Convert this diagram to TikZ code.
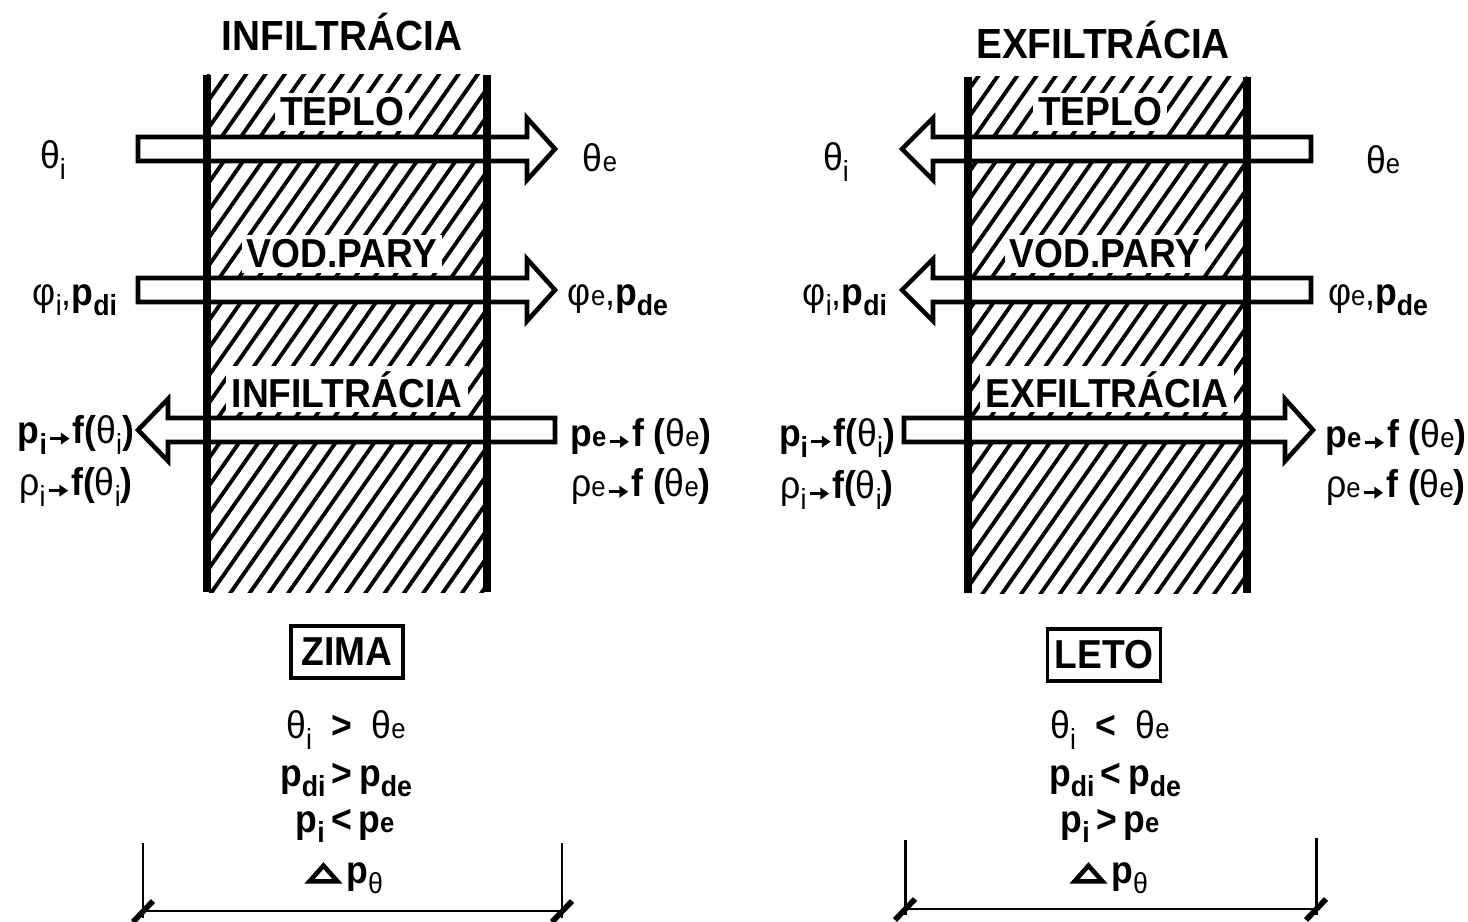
\documentclass[tikz,border=0pt]{standalone}
\usepackage{graphicx}
\usepackage{fontspec}
\setmainfont{Liberation Sans}[FakeStretch=0.92]
\usepackage{tikz}
\usetikzlibrary{arrows.meta,patterns.meta}
\tikzset{
  wallline/.style={line width=4pt},                          % wall faces
  flowarr/.style={draw=black,fill=white,line width=2.6pt,line join=miter},
  inlab/.style={fill=white,inner sep=3pt,text depth=0pt,font=\bfseries\fontsize{23}{27}\selectfont},
  sidelab/.style={inner sep=1pt,font=\fontsize{22}{26}\selectfont},
  ttl/.style={font=\bfseries\fontsize{24}{28}\selectfont},
  season/.style={draw,line width=1.8pt,inner sep=4pt,minimum width=112*0.02cm,minimum height=52*0.02cm,font=\bfseries\fontsize{23}{27}\selectfont},
  eqn/.style={inner sep=1pt,font=\fontsize{22}{26}\selectfont},
  dimline/.style={line width=1.7pt},
  dimtick/.style={line width=3.2pt},
}
\newcommand{\ix}[1]{\raisebox{-0.5ex}{\scalebox{0.75}{#1}}}% lowered index
\newcommand{\ex}[1]{\scalebox{0.72}{#1}}% index on baseline
\newcommand{\pto}{\kern1pt\tikz[x=1pt,y=1pt,baseline=-3pt]\draw[line width=1.6pt,-{Triangle[length=5pt,width=6.5pt]}] (0,0) -- (11,0);\kern1pt}
\newcommand{\dlt}{\tikz[x=1pt,y=1pt,baseline=0pt]\draw[line width=2.6pt,line join=miter] (0,1) -- (16,1) -- (8,10) -- cycle;}
\newcommand{\layer}[4]{% x1, x2, y1, y2
  \fill[pattern={Lines[angle=55,distance=9pt,line width=2.2pt]}] (#1,#3) rectangle (#2,#4);
}
\newcommand{\flow}[4]{% tail, head base, tip, y
  \draw[flowarr] (#1,#4-12) -- (#2,#4-12) -- (#2,#4-31) -- (#3,#4) -- (#2,#4+31) -- (#2,#4+12) -- (#1,#4+12) -- cycle;
}
\begin{document}
\begin{tikzpicture}[x=0.02cm,y=-0.02cm]
  \useasboundingbox (0,0) rectangle (1468,922);
  % --- winter: infiltration
  \layer{207}{487}{75}{592}
  \flow{138}{527}{555}{149}
  \flow{138}{527}{555}{290}
  \flow{555}{168}{138}{430}
  \draw[wallline] (207,75) -- (207,592);
  \draw[wallline] (487,75) -- (487,592);
  \node[ttl] (tin) at (342,32) {INFILTRÁCIA};
  \node[inlab,anchor=base] (hin) at (342,126) {TEPLO};
  \node[inlab,anchor=base] (vin) at (342,268) {VOD.PARY};
  \node[inlab,anchor=base] (ain) at (347,407) {INFILTRÁCIA};
  \node[sidelab] (thil) at (53,160) {θ\ix{i}};
  \node[sidelab] (thel) at (600,158) {θ\ex{e}};
  \node[sidelab] (phil) at (75,300) {φ\ix{i},\textbf{p\ix{di}}};
  \node[sidelab] (phel) at (618,300) {φ\ex{e},\textbf{p\ix{de}}};
  \node[sidelab] (pil) at (76,435) {\textbf{p\ix{i}}\pto\textbf{f(}θ\ix{i}\textbf{)}};
  \node[sidelab] (ril) at (76,487) {ρ\ix{i}\pto\textbf{f(}θ\ix{i}\textbf{)}};
  \node[sidelab] (pel) at (641,437) {\textbf{p\ex{e}}\pto\textbf{f (}θ\ex{e}\textbf{)}};
  \node[sidelab] (rel) at (641,487) {ρ\ex{e}\pto\textbf{f (}θ\ex{e}\textbf{)}};
  \node[season] (zima) at (347,652) {ZIMA};
  \node[eqn] (e1l) at (346,730) {θ\ix{i}\enspace\textbf{>}\enspace θ\ex{e}};
  \node[eqn] (e2l) at (346,780) {\textbf{p\ix{di}\,>\,p\ix{de}}};
  \node[eqn] (e3l) at (345,826) {\textbf{p\ix{i}\,<\,p\ex{e}}};
  \node[eqn] (e4l) at (345,878) {\dlt\,\textbf{p}\ix{θ}};
  \draw[dimline] (143,843) -- (143,918);
  \draw[dimline] (562,843) -- (562,918);
  \draw[dimline] (140,911) -- (566,911);
  \draw[dimtick] (133,922) -- (153,901);
  \draw[dimtick] (552,922) -- (572,901);
  % --- summer: exfiltration
  \layer{968}{1247}{77}{593}
  \flow{1311}{933}{902}{149}
  \flow{1311}{933}{902}{290}
  \flow{904}{1285}{1313}{430}
  \draw[wallline] (968,77) -- (968,593);
  \draw[wallline] (1247,77) -- (1247,593);
  \node[ttl] (tex) at (1103,40) {EXFILTRÁCIA};
  \node[inlab,anchor=base] (hex) at (1100,126) {TEPLO};
  \node[inlab,anchor=base] (vex) at (1105,268) {VOD.PARY};
  \node[inlab,anchor=base] (aex) at (1107,407) {EXFILTRÁCIA};
  \node[sidelab] (thir) at (836,162) {θ\ix{i}};
  \node[sidelab] (ther) at (1383,160) {θ\ex{e}};
  \node[sidelab] (phir) at (845,300) {φ\ix{i},\textbf{p\ix{di}}};
  \node[sidelab] (pher) at (1378,300) {φ\ex{e},\textbf{p\ix{de}}};
  \node[sidelab] (pir) at (837,438) {\textbf{p\ix{i}}\pto\textbf{f(}θ\ix{i}\textbf{)}};
  \node[sidelab] (rir) at (837,490) {ρ\ix{i}\pto\textbf{f(}θ\ix{i}\textbf{)}};
  \node[sidelab] (per) at (1396,438) {\textbf{p\ex{e}}\pto\textbf{f (}θ\ex{e}\textbf{)}};
  \node[sidelab] (rer) at (1396,488) {ρ\ex{e}\pto\textbf{f (}θ\ex{e}\textbf{)}};
  \node[season] (leto) at (1104,655) {LETO};
  \node[eqn] (e1r) at (1110,730) {θ\ix{i}\enspace\textbf{<}\enspace θ\ex{e}};
  \node[eqn] (e2r) at (1115,780) {\textbf{p\ix{di}\,<\,p\ix{de}}};
  \node[eqn] (e3r) at (1110,826) {\textbf{p\ix{i}\,>\,p\ex{e}}};
  \node[eqn] (e4r) at (1110,878) {\dlt\,\textbf{p}\ix{θ}};
  \draw[dimline] (905,840) -- (905,915);
  \draw[dimline] (1316,838) -- (1316,915);
  \draw[dimline] (902,909) -- (1320,909);
  \draw[dimtick] (895,920) -- (915,899);
  \draw[dimtick] (1306,920) -- (1326,899);
\end{tikzpicture}
\end{document}
